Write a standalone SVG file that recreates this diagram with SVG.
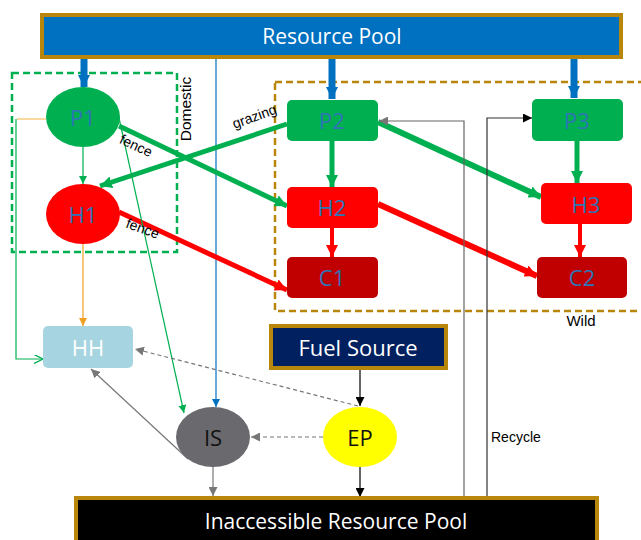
<svg xmlns="http://www.w3.org/2000/svg" width="641" height="540" viewBox="0 0 641 540">
<style>
.lbl{font-family:"Liberation Sans",Arial,sans-serif;font-size:14px;fill:#000}
.node{font-family:"Open Sans","Liberation Sans",sans-serif;font-size:22px;fill:#2E75B6;text-anchor:middle;dominant-baseline:central}
.pool{font-family:"Open Sans","Liberation Sans",sans-serif;font-size:21px;fill:#fff;text-anchor:middle;dominant-baseline:central}
.gold{stroke:#B8860B;stroke-width:4}
</style>
<defs>
<marker id="mBlue" viewBox="0 0 10 10" refX="10" refY="5" markerWidth="14" markerHeight="12" markerUnits="userSpaceOnUse" orient="auto"><path d="M0,0L10,5L0,10z" fill="#0070C0"/></marker>
<marker id="mGreen" viewBox="0 0 10 10" refX="10" refY="5" markerWidth="12" markerHeight="12" markerUnits="userSpaceOnUse" orient="auto"><path d="M0,0L10,5L0,10z" fill="#00B050"/></marker>
<marker id="mRed" viewBox="0 0 10 10" refX="10" refY="5" markerWidth="12" markerHeight="12" markerUnits="userSpaceOnUse" orient="auto"><path d="M0,0L10,5L0,10z" fill="#FF0000"/></marker>
<marker id="mGreenS" viewBox="0 0 10 10" refX="10" refY="5" markerWidth="8" markerHeight="8" markerUnits="userSpaceOnUse" orient="auto"><path d="M0,0L10,5L0,10z" fill="#00B050"/></marker>
<marker id="mGreenO" viewBox="0 0 10 10" refX="10" refY="5" markerWidth="9" markerHeight="9" markerUnits="userSpaceOnUse" orient="auto"><path d="M0,0L10,5L0,10" fill="none" stroke="#00B050" stroke-width="1.5"/></marker>
<marker id="mOrange" viewBox="0 0 10 10" refX="10" refY="5" markerWidth="8" markerHeight="8" markerUnits="userSpaceOnUse" orient="auto"><path d="M0,0L10,5L0,10z" fill="#F0A020"/></marker>
<marker id="mBlueS" viewBox="0 0 10 10" refX="10" refY="5" markerWidth="8" markerHeight="8" markerUnits="userSpaceOnUse" orient="auto"><path d="M0,0L10,5L0,10z" fill="#0070C0"/></marker>
<marker id="mGray" viewBox="0 0 10 10" refX="10" refY="5" markerWidth="9" markerHeight="9" markerUnits="userSpaceOnUse" orient="auto"><path d="M0,0L10,5L0,10z" fill="#777"/></marker>
<marker id="mBlack" viewBox="0 0 10 10" refX="10" refY="5" markerWidth="9" markerHeight="9" markerUnits="userSpaceOnUse" orient="auto"><path d="M0,0L10,5L0,10z" fill="#000"/></marker>
</defs>
<rect width="641" height="540" fill="#fff"/>

<!-- group boxes -->
<g id="domestic">
<rect x="12" y="73" width="165" height="179" fill="none" stroke="#00B050" stroke-width="2.5" stroke-dasharray="7,4"/>
<text class="lbl" transform="translate(191,109) rotate(-90)" text-anchor="middle" style="font-size:15.5px">Domestic</text>
</g>
<g id="wild">
<rect x="275" y="82" width="380" height="229" fill="none" stroke="#B8860B" stroke-width="2.5" stroke-dasharray="7,4"/>
<text class="lbl" x="581" y="326" text-anchor="middle" style="font-size:15px">Wild</text>
</g>

<!-- connectors -->
<g id="connectors" fill="none">
<line x1="84" y1="58" x2="84" y2="87" stroke="#0070C0" stroke-width="7" marker-end="url(#mBlue)"/>
<line x1="332" y1="58" x2="332" y2="99" stroke="#0070C0" stroke-width="7" marker-end="url(#mBlue)"/>
<line x1="574" y1="58" x2="574" y2="98" stroke="#0070C0" stroke-width="7" marker-end="url(#mBlue)"/>
<line x1="216" y1="58" x2="216" y2="407" stroke="#0070C0" stroke-width="1.2" marker-end="url(#mBlueS)"/>

<line x1="83" y1="147" x2="83" y2="184" stroke="#00B050" stroke-width="1.2" marker-end="url(#mGreenS)"/>
<line x1="119" y1="126" x2="287" y2="206" stroke="#00B050" stroke-width="5" marker-end="url(#mGreen)"/>
<line x1="287" y1="124" x2="100" y2="186" stroke="#00B050" stroke-width="5" marker-end="url(#mGreen)"/>
<line x1="378" y1="122" x2="541" y2="197" stroke="#00B050" stroke-width="6" marker-end="url(#mGreen)"/>
<line x1="332" y1="141" x2="332" y2="187" stroke="#00B050" stroke-width="5" marker-end="url(#mGreen)"/>
<line x1="577" y1="141" x2="577" y2="183" stroke="#00B050" stroke-width="5" marker-end="url(#mGreen)"/>

<line x1="119" y1="212" x2="287" y2="290" stroke="#FF0000" stroke-width="5" marker-end="url(#mRed)"/>
<line x1="378" y1="204" x2="537" y2="276" stroke="#FF0000" stroke-width="6" marker-end="url(#mRed)"/>
<line x1="332" y1="228" x2="332" y2="257" stroke="#FF0000" stroke-width="4" marker-end="url(#mRed)"/>
<line x1="580" y1="224" x2="580" y2="257" stroke="#FF0000" stroke-width="4" marker-end="url(#mRed)"/>

<line x1="17" y1="119" x2="46" y2="119" stroke="#F5C060" stroke-width="1.2"/>
<polyline points="16,119 16,359 43,359" stroke="#00B050" stroke-width="1.2" marker-end="url(#mGreenO)"/>
<line x1="83" y1="244" x2="83" y2="326" stroke="#F0A020" stroke-width="1.2" marker-end="url(#mOrange)"/>
<line x1="119" y1="118" x2="184" y2="413" stroke="#00B050" stroke-width="1.2" marker-end="url(#mGreenS)"/>

<line x1="188" y1="459" x2="91" y2="369" stroke="#777" stroke-width="1.2" marker-end="url(#mGray)"/>
<line x1="358" y1="406" x2="135" y2="349" stroke="#777" stroke-width="1.2" stroke-dasharray="4,3" marker-end="url(#mGray)"/>
<line x1="323" y1="437" x2="251" y2="437" stroke="#777" stroke-width="1.2" stroke-dasharray="4,3" marker-end="url(#mGray)"/>
<line x1="213" y1="467" x2="213" y2="496" stroke="#777" stroke-width="1.2" marker-end="url(#mGray)"/>
<line x1="360" y1="369" x2="360" y2="406" stroke="#000" stroke-width="1.2" marker-end="url(#mBlack)"/>
<line x1="360" y1="467" x2="360" y2="497" stroke="#000" stroke-width="1.2" marker-end="url(#mBlack)"/>

<polyline points="464,497 464,121 379,121" stroke="#666" stroke-width="1.2" marker-end="url(#mGray)"/>
<polyline points="487,497 487,118 532,118" stroke="#333" stroke-width="1.2" marker-end="url(#mBlack)"/>

<text class="lbl" transform="translate(134,150) rotate(25)" text-anchor="middle" stroke="none">fence</text>
<text class="lbl" transform="translate(141,233) rotate(20)" text-anchor="middle" stroke="none">fence</text>
<text class="lbl" transform="translate(256,121) rotate(-20)" text-anchor="middle" stroke="none">grazing</text>
<text class="lbl" x="491" y="442" stroke="none">Recycle</text>
</g>

<!-- nodes -->
<g id="resource-pool">
<rect x="42" y="15" width="579" height="42" fill="#0070C0" class="gold"/>
<text class="pool" x="332" y="36">Resource Pool</text>
</g>
<g id="P1"><ellipse cx="83" cy="117" rx="37" ry="30" fill="#00B050"/><text class="node" x="83" y="117">P1</text></g>
<g id="H1"><ellipse cx="83" cy="214" rx="37" ry="30" fill="#FF0000"/><text class="node" x="83" y="214">H1</text></g>
<g id="P2"><rect x="287" y="100" width="91" height="41" rx="5" fill="#00B050"/><text class="node" x="332" y="120">P2</text></g>
<g id="H2"><rect x="287" y="187" width="91" height="41" rx="5" fill="#FF0000"/><text class="node" x="332" y="207">H2</text></g>
<g id="C1"><rect x="287" y="257" width="91" height="41" rx="5" fill="#C00000"/><text class="node" x="332" y="277">C1</text></g>
<g id="P3"><rect x="532" y="99" width="91" height="42" rx="5" fill="#00B050"/><text class="node" x="577" y="120">P3</text></g>
<g id="H3"><rect x="541" y="183" width="91" height="41" rx="5" fill="#FF0000"/><text class="node" x="586" y="204">H3</text></g>
<g id="C2"><rect x="537" y="257" width="90" height="41" rx="5" fill="#C00000"/><text class="node" x="582" y="277">C2</text></g>
<g id="HH"><rect x="43" y="326" width="90" height="42" rx="5" fill="#A6D5E1"/><text class="node" x="88" y="347" style="fill:#fff">HH</text></g>
<g id="fuel-source">
<rect x="271" y="326" width="175" height="42" fill="#002060" class="gold"/>
<text class="pool" x="358" y="347" style="font-size:22px">Fuel Source</text>
</g>
<g id="IS"><ellipse cx="213" cy="437" rx="37" ry="30" fill="#6A696E"/><text class="node" x="213" y="437" style="fill:#111">IS</text></g>
<g id="EP"><ellipse cx="360" cy="437" rx="37" ry="30" fill="#FFFF00"/><text class="node" x="360" y="437" style="fill:#111">EP</text></g>
<g id="inaccessible-pool">
<rect x="76" y="498" width="521" height="46" fill="#000" class="gold"/>
<text class="pool" x="336" y="521">Inaccessible Resource Pool</text>
</g>
</svg>
